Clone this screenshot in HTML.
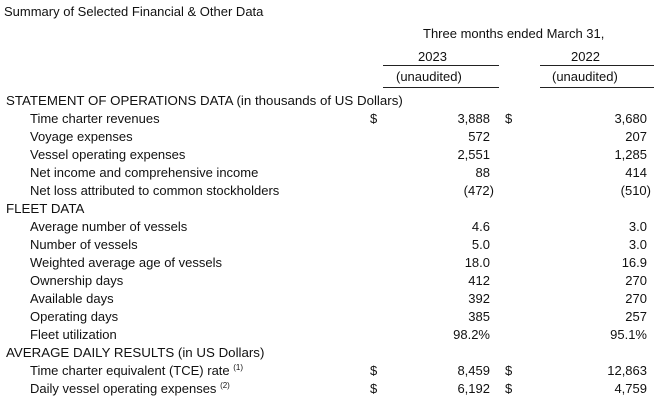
<!DOCTYPE html>
<html><head><style>
body{margin:0;width:654px;height:404px;background:#fff;position:relative;font-family:"Liberation Sans",sans-serif;font-size:13px;color:#111;overflow:hidden}
div{position:absolute;white-space:nowrap;line-height:14px}
.l{left:30px}.h{left:6px;font-size:13.3px}
.d1{left:370px}.d2{left:505px}
.v1{right:164px}.v2{right:7px}
.ln{height:1px;background:#222}
sup{font-size:8px;vertical-align:5px;line-height:0}
</style></head><body>
<div style="left:4px;top:5px">Summary of Selected Financial &amp; Other Data</div>
<div style="left:423px;top:27px">Three months ended March 31,</div>
<div style="left:418px;top:50px">2023</div>
<div style="left:571px;top:50px">2022</div>
<div class="ln" style="left:383px;width:116px;top:65px"></div>
<div class="ln" style="left:540px;width:114px;top:65px"></div>
<div style="left:396px;top:70px">(unaudited)</div>
<div style="left:552px;top:70px">(unaudited)</div>
<div class="ln" style="left:383px;width:116px;top:87px"></div>
<div class="ln" style="left:540px;width:114px;top:87px"></div>

<div class="h" style="top:94px">STATEMENT OF OPERATIONS DATA (in thousands of US Dollars)</div>
<div class="l" style="top:112px">Time charter revenues</div><div class="d1" style="top:112px">$</div><div class="v1" style="top:112px">3,888</div><div class="d2" style="top:112px">$</div><div class="v2" style="top:112px">3,680</div>
<div class="l" style="top:130px">Voyage expenses</div><div class="v1" style="top:130px">572</div><div class="v2" style="top:130px">207</div>
<div class="l" style="top:148px">Vessel operating expenses</div><div class="v1" style="top:148px">2,551</div><div class="v2" style="top:148px">1,285</div>
<div class="l" style="top:166px">Net income and comprehensive income</div><div class="v1" style="top:166px">88</div><div class="v2" style="top:166px">414</div>
<div class="l" style="top:184px">Net loss attributed to common stockholders</div><div class="v1" style="top:184px;right:160px">(472)</div><div class="v2" style="top:184px;right:3px">(510)</div>
<div class="h" style="top:202px">FLEET DATA</div>
<div class="l" style="top:220px">Average number of vessels</div><div class="v1" style="top:220px">4.6</div><div class="v2" style="top:220px">3.0</div>
<div class="l" style="top:238px">Number of vessels</div><div class="v1" style="top:238px">5.0</div><div class="v2" style="top:238px">3.0</div>
<div class="l" style="top:256px">Weighted average age of vessels</div><div class="v1" style="top:256px">18.0</div><div class="v2" style="top:256px">16.9</div>
<div class="l" style="top:274px">Ownership days</div><div class="v1" style="top:274px">412</div><div class="v2" style="top:274px">270</div>
<div class="l" style="top:292px">Available days</div><div class="v1" style="top:292px">392</div><div class="v2" style="top:292px">270</div>
<div class="l" style="top:310px">Operating days</div><div class="v1" style="top:310px">385</div><div class="v2" style="top:310px">257</div>
<div class="l" style="top:328px">Fleet utilization</div><div class="v1" style="top:328px">98.2%</div><div class="v2" style="top:328px">95.1%</div>
<div class="h" style="top:346px">AVERAGE DAILY RESULTS (in US Dollars)</div>
<div class="l" style="top:364px">Time charter equivalent (TCE) rate <sup>(1)</sup></div><div class="d1" style="top:364px">$</div><div class="v1" style="top:364px">8,459</div><div class="d2" style="top:364px">$</div><div class="v2" style="top:364px">12,863</div>
<div class="l" style="top:382px">Daily vessel operating expenses <sup>(2)</sup></div><div class="d1" style="top:382px">$</div><div class="v1" style="top:382px">6,192</div><div class="d2" style="top:382px">$</div><div class="v2" style="top:382px">4,759</div>
</body></html>
